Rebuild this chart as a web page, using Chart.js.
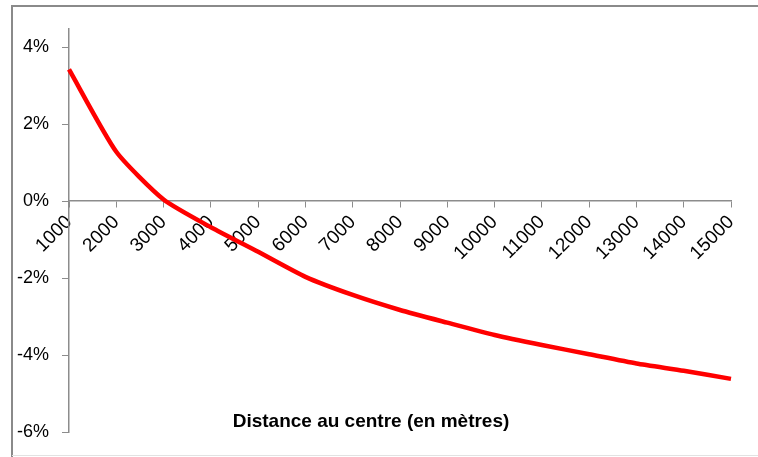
<!DOCTYPE html>
<html>
<head>
<meta charset="utf-8">
<script src="https://cdn.jsdelivr.net/npm/chart.js@4.4.1/dist/chart.umd.min.js"></script>
<style>
    html, body { margin: 0; padding: 0; background: #ffffff; }
    #wrap { position: relative; width: 758px; height: 457px; }
</style>
</head>
<body>
<div id="wrap"><canvas id="distChart" width="758" height="457"></canvas></div>
<script>
// Distance categories (metres)
const distances = ['1000', '2000', '3000', '4000', '5000', '6000', '7000', '8000',
    '9000', '10000', '11000', '12000', '13000', '14000', '15000'];
// Variation in percent
const variation = [3.42, 1.28, 0.04, -0.68, -1.32, -1.97, -2.44, -2.83,
    -3.16, -3.48, -3.74, -3.98, -4.22, -4.41, -4.62];
// Y tick values
const yTicks = [-6, -4, -2, 0, 2, 4];
const xTitle = 'Distance au centre (en mètres)';

const FONT = '"Liberation Sans", Arial, sans-serif';
const AXIS_GREY = '#8c8c8c';

// Frame around the chart + the axis title drawn inside the plot
const framePlugin = {
    id: 'frame',
    beforeDraw(chart) {
        const ctx = chart.ctx;
        ctx.save();
        ctx.strokeStyle = '#8a8a8a';
        ctx.lineWidth = 2;
        ctx.beginPath();
        ctx.moveTo(800, 6);
        ctx.lineTo(12, 6);
        ctx.lineTo(12, 457);
        ctx.stroke();
        ctx.strokeStyle = '#e2e2e2';
        ctx.lineWidth = 1;
        ctx.beginPath();
        ctx.moveTo(12, 455.5);
        ctx.lineTo(758, 455.5);
        ctx.stroke();
        ctx.restore();
    },
    afterDraw(chart) {
        const ctx = chart.ctx;
        ctx.save();
        ctx.font = 'bold 19px ' + FONT;
        ctx.fillStyle = '#000000';
        ctx.textAlign = 'center';
        ctx.textBaseline = 'middle';
        ctx.fillText(xTitle, 371, 422);
        ctx.restore();
    }
};

const ctx = document.getElementById('distChart').getContext('2d');
const distChart = new Chart(ctx, {
    type: 'line',
    data: {
        labels: distances,
        datasets: [{
            data: variation,
            borderColor: '#ff0000',
            borderWidth: 4.5,
            pointRadius: 0,
            fill: false,
            tension: 0.2
        }]
    },
    options: {
        responsive: false,
        animation: false,
        layout: {
            padding: { top: 29, bottom: 25, right: 27, left: 0 }
        },
        plugins: {
            legend: { display: false },
            tooltip: { enabled: false }
        },
        scales: {
            x: {
                type: 'category',
                position: { y: 0 },
                offset: false,
                grid: {
                    display: true,
                    drawOnChartArea: false,
                    drawTicks: true,
                    tickLength: 6,
                    color: AXIS_GREY
                },
                border: { color: AXIS_GREY, width: 1.5 },
                ticks: {
                    autoSkip: false,
                    maxRotation: 45,
                    minRotation: 45,
                    padding: 4,
                    color: '#000000',
                    font: { family: FONT, size: 19 }
                }
            },
            y: {
                min: -6,
                max: 4.47,
                afterBuildTicks(scale) {
                    scale.ticks = yTicks.map(v => ({ value: v }));
                },
                afterFit(scale) {
                    scale.width = 69;
                },
                grid: {
                    display: true,
                    drawOnChartArea: false,
                    drawTicks: true,
                    tickLength: 7,
                    color: AXIS_GREY
                },
                border: { color: AXIS_GREY, width: 1.5 },
                ticks: {
                    padding: 13,
                    color: '#000000',
                    font: { family: FONT, size: 18 },
                    callback: function(value) {
                        return value + '%';
                    }
                }
            }
        }
    },
    plugins: [framePlugin]
});
</script>
</body>
</html>
